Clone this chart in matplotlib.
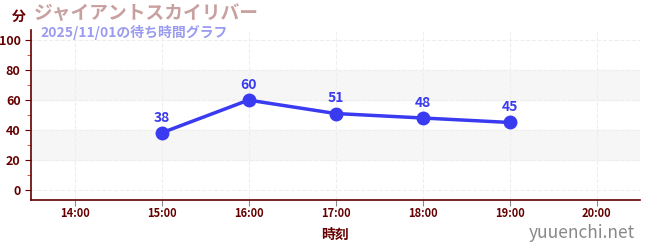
import matplotlib
matplotlib.use('Agg')
import matplotlib.pyplot as plt
from matplotlib.ticker import MultipleLocator

plt.rcParams['font.family'] = ['Noto Sans CJK JP', 'DejaVu Sans']

# data
hours = [15, 16, 17, 18, 19]
waits = [38, 60, 51, 48, 45]
xticks = [14, 15, 16, 17, 18, 19, 20]
xlabels = ['14:00', '15:00', '16:00', '17:00', '18:00', '19:00', '20:00']
yticks = [0, 20, 40, 60, 80, 100]
bands = [(20, 40), (60, 80)]

title = 'ジャイアントスカイリバー'
subtitle = '2025/11/01の待ち時間グラフ'

axis_col = '#660000'
line_col = '#3a3af0'

fig = plt.figure(figsize=(6.5, 2.5), dpi=100)
ax = fig.add_axes([31/650, 50/250, 609/650, 170/250])

for lo, hi in bands:
    ax.axhspan(lo, hi, color='#f6f6f6', zorder=0)

ax.plot(hours, waits, color=line_col, lw=2.5, marker='o', ms=9, zorder=3)
for h, w in zip(hours, waits):
    ax.annotate(str(w), (h, w), xytext=(0, 6), textcoords='offset points',
                ha='center', va='bottom', color=line_col, fontsize=10, fontweight='bold')

ax.set_xlim(13.5, 20.5)
ax.set_ylim(-7, 107)
ax.set_xticks(xticks)
ax.set_xticklabels(xlabels)
ax.set_yticks(yticks)
ax.yaxis.set_minor_locator(MultipleLocator(10))
ax.grid(True, color='#eeeeee', ls='--', lw=0.8, zorder=1)

for s in ['top', 'right']:
    ax.spines[s].set_visible(False)
for s in ['left', 'bottom']:
    ax.spines[s].set_color(axis_col)
    ax.spines[s].set_linewidth(1.2)

ax.tick_params(axis='x', colors='#888888', labelcolor=axis_col, labelsize=8, length=4, pad=1)
ax.tick_params(axis='y', which='major', colors=axis_col, labelsize=9, length=4)
ax.tick_params(axis='y', which='minor', colors='#dd3333', length=3)
for lab in ax.get_xticklabels() + ax.get_yticklabels():
    lab.set_fontweight('bold')

ax.set_xlabel('時刻', color=axis_col, fontsize=10, fontweight='bold', labelpad=6)

fig.text(12/650, 1 - 17/250, '分', color=axis_col, fontsize=10, fontweight='bold', va='center')
fig.text(34/650, 1 - 14/250, title, color='#c9a0a0', fontsize=13.5, fontweight='bold', va='center')
fig.text(40/650, 1 - 32/250, subtitle, color='#9b9bef', fontsize=10, fontweight='bold', va='center')
fig.text(635/650, 1 - 233/250, 'yuuenchi.net', color='#888888', fontsize=12.5, ha='right', va='center')

fig.savefig('out.png', dpi=100)
